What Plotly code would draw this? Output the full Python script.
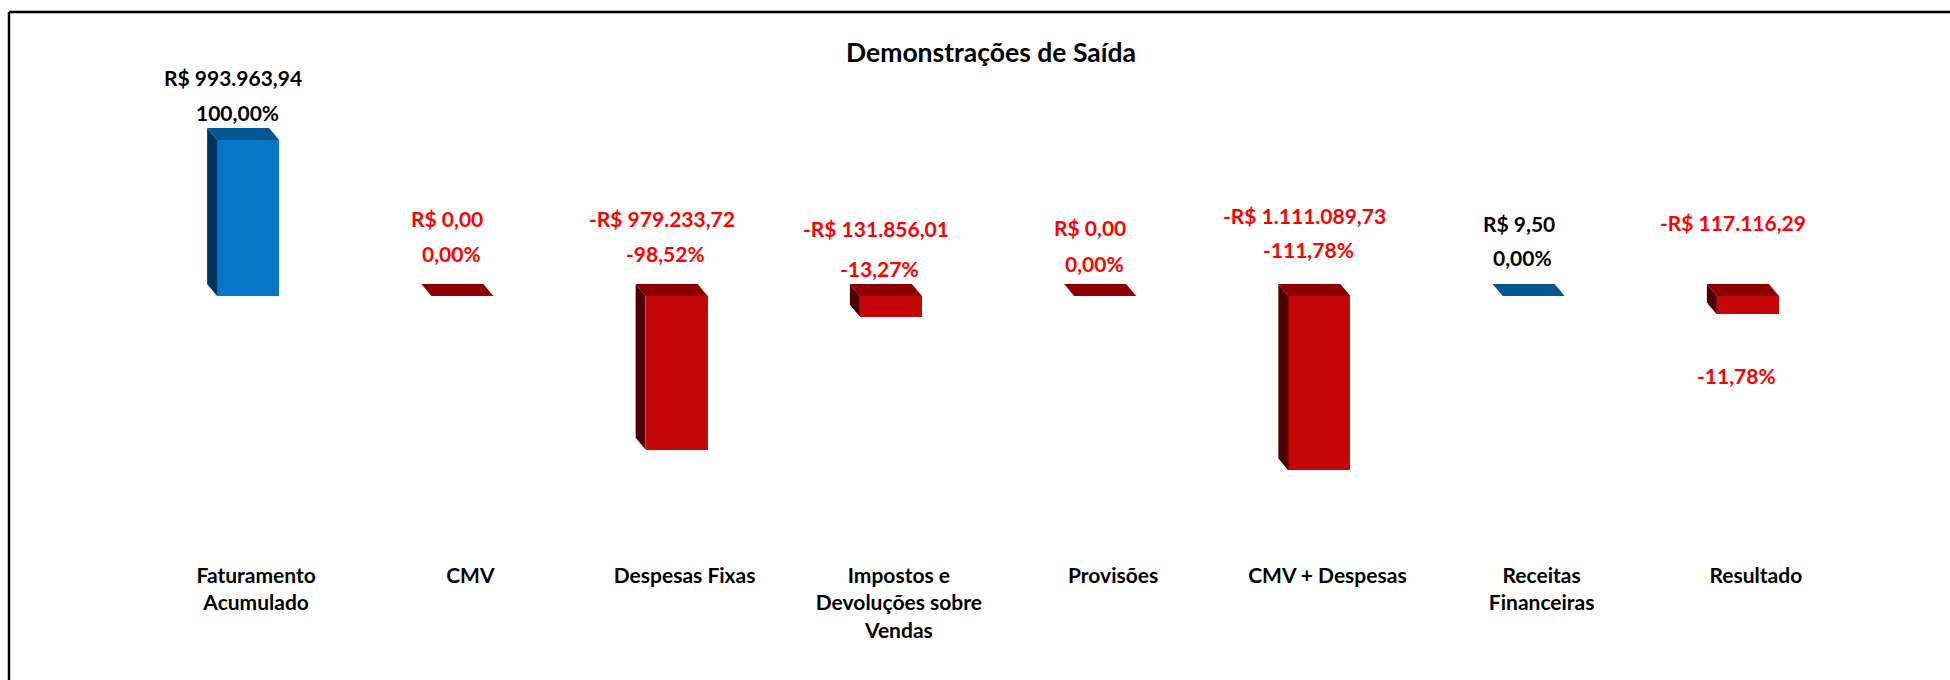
import plotly.graph_objects as go

# ---------------- data ----------------
categories = [
    "Faturamento<br>Acumulado",
    "CMV",
    "Despesas Fixas",
    "Impostos e<br>Devoluções sobre<br>Vendas",
    "Provisões",
    "CMV + Despesas",
    "Receitas<br>Financeiras",
    "Resultado",
]
values = [993963.94, 0.00, -979233.72, -131856.01, 0.00, -1111089.73, 9.50, -117116.29]
kinds = ["receita", "custo", "custo", "custo", "custo", "custo", "receita", "custo"]

# ---------------- label placement (pixels, relative to the zero line) ----------------
value_label_shift = [219, 78, 78, 68, 69, 81, 73, 74]
pct_label_shift = [184, 43, 43, 28, 33, 47, 39, -79]

# ---------------- styles ----------------
FRONT = {"receita": "#0776C6", "custo": "#C40606"}
TOP = {"receita": "#03568F", "custo": "#8E0000"}
SIDE = {"receita": "#00345C", "custo": "#4C0000"}
TEXT = {"receita": "#000000", "custo": "#FF0000"}
FONT = "Lato, Open Sans, sans-serif"

W, H = 1950, 680
ML, MR, MT, MB = 141, 95, 100, 120
PLOT_W = W - ML - MR
PLOT_H = H - MT - MB
N = len(categories)
PX_PER_CAT = PLOT_W / N
UNITS_PER_PX = 6370.0
ZERO_PX = 296  # pixel row of the zero line
Y_MAX = (ZERO_PX - MT) * UNITS_PER_PX
Y_MIN = -(MT + PLOT_H - ZERO_PX) * UNITS_PER_PX

BAR_W = 62 / PX_PER_CAT
DX = 10 / PX_PER_CAT
DY = 12 * UNITS_PER_PX


def brl(v):
    s = f"{abs(v):,.2f}".replace(",", "X").replace(".", ",").replace("X", ".")
    return ("-" if v < 0 else "") + "R$ " + s


def pct(v):
    p = v / values[0] * 100
    s = f"{abs(p):.2f}".replace(".", ",")
    return ("-" if round(p, 2) < 0 else "") + s + "%"


fig = go.Figure()

# front faces
fig.add_trace(go.Bar(
    x=list(range(N)), y=values, width=BAR_W,
    marker=dict(color=[FRONT[k] for k in kinds], line=dict(width=0)),
    hoverinfo="skip", showlegend=False,
))

# 3D side and top faces derived from the data
for i, (v, k) in enumerate(zip(values, kinds)):
    x0, x1 = i - BAR_W / 2, i + BAR_W / 2
    top_y, bot_y = max(v, 0), min(v, 0)
    if v != 0:
        fig.add_trace(go.Scatter(
            x=[x0, x0, x0 - DX, x0 - DX, x0],
            y=[bot_y, top_y, top_y + DY, bot_y + DY, bot_y],
            mode="lines", line=dict(width=0), fill="toself", fillcolor=SIDE[k],
            hoverinfo="skip", showlegend=False,
        ))
    fig.add_trace(go.Scatter(
        x=[x0, x1, x1 - DX, x0 - DX, x0],
        y=[top_y, top_y, top_y + DY, top_y + DY, top_y],
        mode="lines", line=dict(width=0), fill="toself", fillcolor=TOP[k],
        hoverinfo="skip", showlegend=False,
    ))

# data labels
for i, (v, k) in enumerate(zip(values, kinds)):
    fig.add_annotation(x=i, y=0, text=brl(v), showarrow=False, yanchor="middle",
                       xshift=-15, yshift=value_label_shift[i],
                       font=dict(family=FONT, size=21, color=TEXT[k], weight="bold"))
    fig.add_annotation(x=i, y=0, text=pct(v), showarrow=False, yanchor="middle",
                       xshift=-11, yshift=pct_label_shift[i],
                       font=dict(family=FONT, size=21, color=TEXT[k], weight="bold"))


# frame (top and left border)
def px_x(p):
    return (p - ML) / PLOT_W


def px_y(p):
    return (MT + PLOT_H - p) / PLOT_H


fig.add_shape(type="line", xref="paper", yref="paper",
              x0=px_x(9), x1=px_x(W + 5), y0=px_y(12), y1=px_y(12),
              line=dict(color="black", width=2.5))
fig.add_shape(type="line", xref="paper", yref="paper",
              x0=px_x(9), x1=px_x(9), y0=px_y(12), y1=px_y(H + 5),
              line=dict(color="black", width=2.5))

fig.update_layout(
    width=W, height=H,
    margin=dict(l=ML, r=MR, t=MT, b=MB, autoexpand=False),
    paper_bgcolor="white", plot_bgcolor="white",
    title=dict(text="Demonstrações de Saída", xref="container", yref="container",
               x=991 / W, y=1 - 53 / H, xanchor="center", yanchor="middle",
               font=dict(family=FONT, size=26.5, color="black", weight="bold")),
    xaxis=dict(range=[-0.5, N - 0.5], tickvals=list(range(N)), ticktext=categories,
               showgrid=False, zeroline=False, showline=False, ticks="",
               ticklabelshift=8, ticklabelstandoff=1,
               tickfont=dict(family=FONT, size=21, color="black", weight="bold"),
               fixedrange=True),
    yaxis=dict(range=[Y_MIN, Y_MAX], visible=False, fixedrange=True),
    showlegend=False,
    bargap=0,
)

fig.write_html("out.html", config={"displayModeBar": False},
               post_script="document.body.style.margin='0';")
